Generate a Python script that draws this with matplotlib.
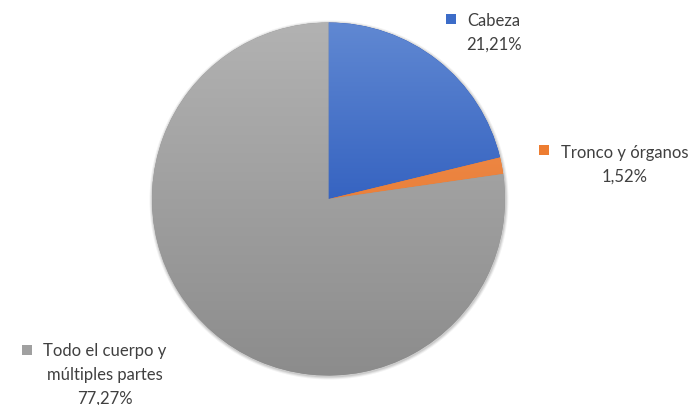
import numpy as np
import matplotlib
matplotlib.use("Agg")
import matplotlib.pyplot as plt
from matplotlib.colors import to_rgb

categories = ["Cabeza", "Tronco y órganos", "Todo el cuerpo y\nmúltiples partes"]
values = [21.21, 1.52, 77.27]
value_labels = ["21,21%", "1,52%", "77,27%"]
# (top colour, bottom colour) for the vertical gradient of each slice
grad_colors = [("#6088d2", "#0c3fb0"), ("#f7975a", "#dc6a1c"), ("#b2b2b2", "#8c8c8c")]
marker_colors = ["#3c6cc8", "#ed7d31", "#a0a0a0"]

W, H = 693, 406
fig = plt.figure(figsize=(W / 100, H / 100), dpi=100)
ax = fig.add_axes([0, 0, 1, 1])

cx, cy, r = 328.5, H - 200, 176.5

# soft shadow
for k, a in zip([3.0, 2.0, 1.0], [0.05, 0.07, 0.09]):
    ax.add_patch(plt.Circle((cx + 0.5, cy - 1.0), r + k, color="black", alpha=a, lw=0, zorder=0))

wedges, _ = ax.pie(values, startangle=90, counterclock=False, center=(cx, cy), radius=r,
                   colors=[c[1] for c in grad_colors], wedgeprops=dict(linewidth=0),
                   frame=True)
ax.set_xlim(0, W)
ax.set_ylim(0, H)
ax.set_aspect("auto")
ax.axis("off")

ny = 200
t = np.linspace(0, 1, ny)[:, None]
for w, (ctop, cbot) in zip(wedges, grad_colors):
    a = np.array(to_rgb(ctop)); b = np.array(to_rgb(cbot))
    img = (a[None, None, :] * (1 - t[..., None]) + b[None, None, :] * t[..., None])
    img = np.repeat(img, 2, axis=1)
    im = ax.imshow(img, extent=(cx - r, cx + r, cy - r, cy + r), origin="upper",
                   aspect="auto", zorder=2, interpolation="bilinear")
    im.set_clip_path(w)

txt_color = "#404040"
fs = 12
fam = ["Lato", "DejaVu Sans"]

def label(xc, ytop, lines, mx, my, mc):
    ax.text(xc, H - ytop, lines, ha="center", va="top", color=txt_color,
            fontsize=fs, family=fam, linespacing=1.62, multialignment="center")
    ax.plot([mx], [H - my], marker="s", markersize=7.5, color=mc, markeredgewidth=0)

label(494, 13, f"{categories[0]}\n{value_labels[0]}", 450.5, 19.5, marker_colors[0])
label(625, 145, f"{categories[1]}\n{value_labels[1]}", 543.5, 150.5, marker_colors[1])
label(105, 343, f"{categories[2]}\n{value_labels[2]}", 27, 350.5, marker_colors[2])

fig.savefig("out.png", dpi=100)
